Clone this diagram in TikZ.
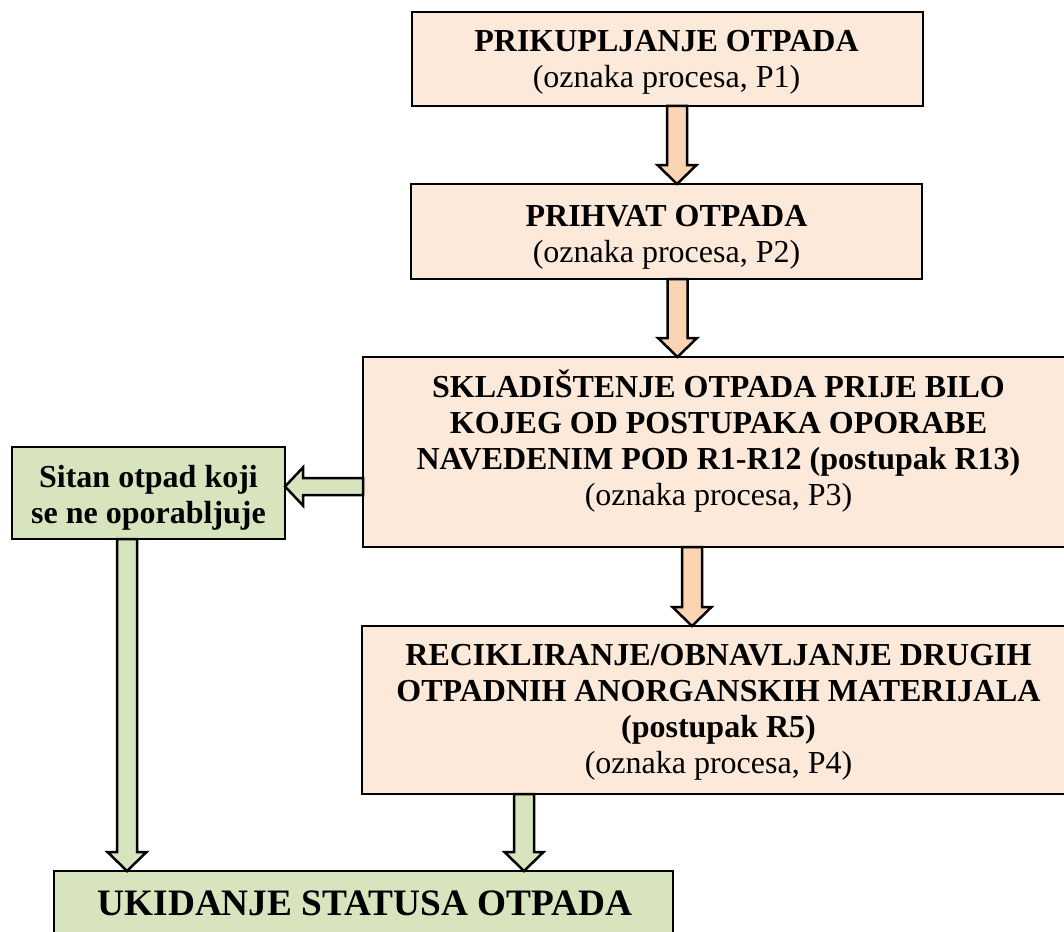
\documentclass[tikz,border=0pt]{standalone}
\usepackage{fontspec}
\setmainfont{Liberation Serif}
\usetikzlibrary{calc}
\definecolor{peach}{HTML}{FDE9D9}
\definecolor{orangearr}{HTML}{FBD4B4}
\definecolor{greenbox}{HTML}{D7E4BD}
\tikzset{
  box/.style={draw=black, line width=1.8pt, rectangle, inner sep=0pt, outer sep=0pt},
  peachbox/.style={box, fill=peach},
  greenbx/.style={box, fill=greenbox},
  txt/.style={anchor=base, inner sep=0pt, outer sep=0pt, font=\fontsize{32}{36}\selectfont},
  bigtxt/.style={anchor=base, inner sep=0pt, outer sep=0pt, font=\fontsize{37.3}{40}\selectfont\bfseries},
  blk/.style={draw=black, line width=2.5pt, line join=miter},
}
\newcommand\mylines[1]{\begin{tabular}[t]{@{}c@{}}#1\end{tabular}}
\newcommand\blkdown[3]{\draw[blk, fill=#3] ($(#1)+(-10,0)$) -- ($(#2)+(-10,-19)$) -- ($(#2)+(-19.5,-19)$) -- (#2) -- ($(#2)+(19.5,-19)$) -- ($(#2)+(10,-19)$) -- ($(#1)+(10,0)$) -- cycle;}
\newcommand\blkleft[3]{\draw[blk, fill=#3] ($(#1)+(0,-8.5)$) -- ($(#2)+(18,-8.5)$) -- ($(#2)+(18,-19)$) -- (#2) -- ($(#2)+(18,19)$) -- ($(#2)+(18,8.5)$) -- ($(#1)+(0,8.5)$) -- cycle;}
\begin{document}
\begin{tikzpicture}[x=1pt,y=-1pt]
\useasboundingbox (0,0) rectangle (1064,931);
\clip (0,0) rectangle (1064,931);

% boxes
\node[peachbox, minimum width=511pt, minimum height=94pt] (b1) at (667.5,59) {};
\node[peachbox, minimum width=511pt, minimum height=95pt] (b2) at (666.5,231.5) {};
\node[peachbox, minimum width=711pt, minimum height=190pt] (b3) at (718.5,452) {};
\node[peachbox, minimum width=713pt, minimum height=168pt] (b4) at (718.5,710) {};
\node[greenbx, minimum width=273pt, minimum height=92pt] (sitan) at (148.5,493) {};
\node[greenbx, minimum width=619pt, minimum height=98pt] (uk) at (363.5,920) {};

% texts
\node[txt] (t1) at (666.5,51.5) {\mylines{\textbf{PRIKUPLJANJE OTPADA}\\(oznaka procesa, P1)}};
\node[txt] (t2) at (666.5,226) {\mylines{\textbf{PRIHVAT OTPADA}\\(oznaka procesa, P2)}};
\node[txt] (t3) at (718.5,397) {\mylines{\textbf{SKLADIŠTENJE OTPADA PRIJE BILO}\\\textbf{KOJEG OD POSTUPAKA OPORABE}\\\textbf{NAVEDENIM POD R1-R12 (postupak R13)}\\(oznaka procesa, P3)}};
\node[txt] (t4) at (718.5,665) {\mylines{\textbf{RECIKLIRANJE/OBNAVLJANJE DRUGIH}\\\textbf{OTPADNIH ANORGANSKIH MATERIJALA}\\\textbf{(postupak R5)}\\(oznaka procesa, P4)}};
\node[txt] (t5) at (148.5,487) {\mylines{\textbf{Sitan otpad koji}\\\textbf{se ne oporabljuje}}};
\node[bigtxt] (t6) at (365,915) {UKIDANJE STATUSA OTPADA};

% arrow end points
\coordinate (a1t) at ([xshift=10.5pt]b2.north);
\coordinate (a1s) at (a1t |- b1.south);
\coordinate (a2t) at ([xshift=-41pt]b3.north);
\coordinate (a2s) at (a2t |- b2.south);
\coordinate (a3t) at ([xshift=-26.5pt]b4.north);
\coordinate (a3s) at (a3t |- b3.south);
\coordinate (a4t) at ([yshift=6.5pt]sitan.east);
\coordinate (a4s) at (a4t -| b3.west);
\coordinate (a5t) at ([xshift=-236.5pt]uk.north);
\coordinate (a5s) at (a5t |- sitan.south);
\coordinate (a6t) at ([xshift=160.5pt]uk.north);
\coordinate (a6s) at (a6t |- b4.south);

% block arrows
\blkdown{a1s}{a1t}{orangearr}
\blkdown{a2s}{a2t}{orangearr}
\blkdown{a3s}{a3t}{orangearr}
\blkleft{a4s}{a4t}{greenbox}
\blkdown{a5s}{a5t}{greenbox}
\blkdown{a6s}{a6t}{greenbox}
\end{tikzpicture}
\end{document}
